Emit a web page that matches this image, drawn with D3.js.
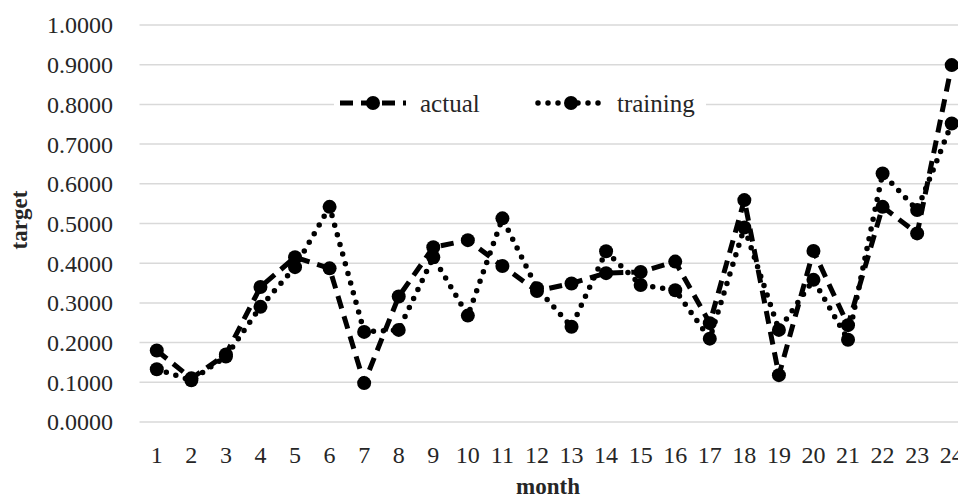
<!DOCTYPE html>
<html>
<head>
<meta charset="utf-8">
<script src="https://cdn.jsdelivr.net/npm/d3@7/dist/d3.min.js"></script>
<style>
  html, body { margin: 0; padding: 0; background: #fff; }
  svg { display: block; }
  text { font-family: "Liberation Serif", "Times New Roman", serif; fill: #262626; }
</style>
</head>
<body>
<svg id="chart" width="958" height="498"></svg>
<script>
const months = [1,2,3,4,5,6,7,8,9,10,11,12,13,14,15,16,17,18,19,20,21,22,23,24];
const actual = [0.180, 0.110, 0.170, 0.340, 0.415, 0.387, 0.098, 0.316, 0.440, 0.458, 0.393, 0.330,
                0.349, 0.375, 0.378, 0.404, 0.249, 0.559, 0.118, 0.431, 0.244, 0.542, 0.475, 0.899];
const training = [0.133, 0.105, 0.165, 0.290, 0.390, 0.542, 0.227, 0.232, 0.415, 0.268, 0.513, 0.337,
                  0.240, 0.430, 0.345, 0.332, 0.210, 0.490, 0.232, 0.358, 0.207, 0.626, 0.534, 0.752];
const yTicks = [0, 0.1, 0.2, 0.3, 0.4, 0.5, 0.6, 0.7, 0.8, 0.9, 1.0];
const seriesNames = ["actual", "training"];

const svg = d3.select("#chart");
const x = d3.scaleBand().domain(months).range([139.5, 969]);
const y = d3.scaleLinear().domain([0, 1]).range([422, 25]);
const cx = d => x(d) + x.bandwidth() / 2;

// gridlines
svg.append("g").selectAll("line").data(yTicks).join("line")
  .attr("x1", 139.5).attr("x2", 969)
  .attr("y1", d => y(d)).attr("y2", d => y(d))
  .attr("stroke", "#d9d9d9").attr("stroke-width", 1.5);

// y tick labels
svg.append("g").selectAll("text").data(yTicks).join("text")
  .attr("x", 113).attr("y", d => y(d)).attr("dy", "0.35em")
  .attr("text-anchor", "end").attr("font-size", 24)
  .text(d => d3.format(".4f")(d));

// x tick labels
svg.append("g").selectAll("text").data(months).join("text")
  .attr("x", d => cx(d)).attr("y", 463)
  .attr("text-anchor", "middle").attr("font-size", 24)
  .text(d => d);

// axis titles
svg.append("text").attr("x", 548).attr("y", 494).attr("text-anchor", "middle")
  .attr("font-size", 23).attr("font-weight", "bold").attr("fill", "#000").text("month");
svg.append("text").attr("transform", "translate(27,220) rotate(-90)")
  .attr("text-anchor", "middle").attr("font-size", 23).attr("font-weight", "bold").attr("fill", "#000").text("target");

const styles = {
  actual:   { dash: "13,8", cap: "butt", width: 5 },
  training: { dash: "0,10", cap: "round", width: 5.5 }
};
const dataBy = { actual, training };

const line = d3.line().x((d, i) => cx(months[i])).y(d => y(d));

// legend background
const lg = svg.append("g");
lg.append("rect").attr("x", 334).attr("y", 90).attr("width", 372).attr("height", 28).attr("fill", "#fff");

["training", "actual"].forEach(name => {
  const st = styles[name];
  const vals = dataBy[name];
  svg.append("path").datum(vals)
    .attr("d", line)
    .attr("fill", "none").attr("stroke", "#000")
    .attr("stroke-width", st.width).attr("stroke-dasharray", st.dash)
    .attr("stroke-linecap", st.cap).attr("stroke-linejoin", "round");
  svg.append("g").selectAll("circle").data(vals).join("circle")
    .attr("cx", (d, i) => cx(months[i])).attr("cy", d => y(d))
    .attr("r", 7).attr("fill", "#000");
});

// legend
const legendItems = [
  { name: "actual", x0: 340, x1: 406, tx: 420 },
  { name: "training", x0: 538, x1: 604, tx: 617 }
];
legendItems.forEach(it => {
  const st = styles[it.name];
  lg.append("line").attr("x1", it.x0).attr("x2", it.x1).attr("y1", 103).attr("y2", 103)
    .attr("stroke", "#000").attr("stroke-width", st.width)
    .attr("stroke-dasharray", st.dash).attr("stroke-linecap", st.cap);
  lg.append("circle").attr("cx", (it.x0 + it.x1) / 2).attr("cy", 103).attr("r", 7).attr("fill", "#000");
  lg.append("text").attr("x", it.tx).attr("y", 112).attr("font-size", 25).text(it.name);
});
</script>
</body>
</html>
